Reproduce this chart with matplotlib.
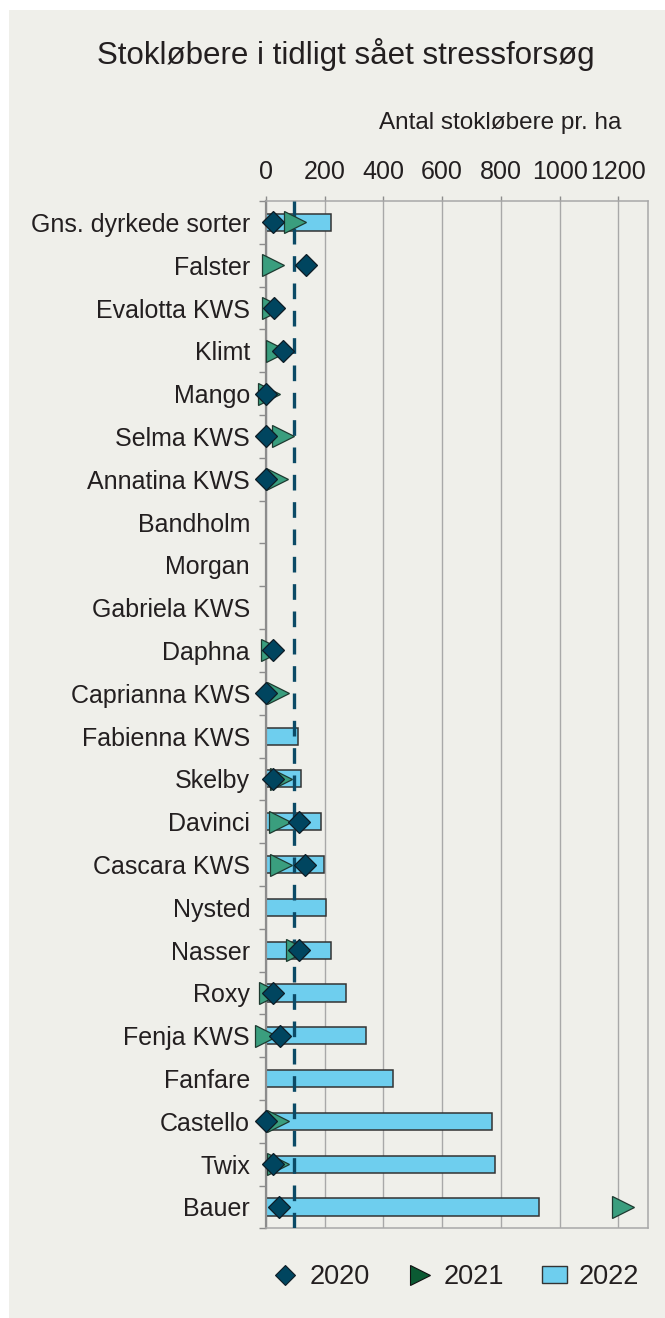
import numpy as np
import matplotlib
matplotlib.use("Agg")
import matplotlib.pyplot as plt
from matplotlib.lines import Line2D
from matplotlib.patches import Patch, Rectangle

plt.rcParams['font.family'] = ['Liberation Sans', 'DejaVu Sans']

categories = ["Gns. dyrkede sorter", "Falster", "Evalotta KWS", "Klimt", "Mango",
              "Selma KWS", "Annatina KWS", "Bandholm", "Morgan", "Gabriela KWS",
              "Daphna", "Caprianna KWS", "Fabienna KWS", "Skelby", "Davinci",
              "Cascara KWS", "Nysted", "Nasser", "Roxy", "Fenja KWS", "Fanfare",
              "Castello", "Twix", "Bauer"]
nan = np.nan
v2020 = [25, 137, 26, 57, 0, 0, 0, nan, nan, nan, 23, 0, nan, 24, 113, 133,
         nan, 113, 24, 46, nan, 0, 23, 45]
v2021 = [98, 25, 24, 36, 11, 58, 38, nan, nan, nan, 20, 42, nan, 50, 47, 50,
         nan, 106, 12, 0, nan, 40, 42, 1215]
v2022 = [220, nan, nan, nan, nan, nan, nan, nan, nan, nan, nan, nan, 108, 120,
         189, 199, 205, 220, 271, 340, 432, 770, 780, 931]
ref_line = 96
xticks = [0, 200, 400, 600, 800, 1000, 1200]
series_names = ["2020", "2021", "2022"]

BG = '#EFEFEA'
TXT = '#231F20'
C_BAR = '#6ECEEE'
C_DIA = '#00455F'
C_TRI = '#3A9E7E'
C_TRI_LEG = '#0B5A33'
C_DASH = '#0B4A66'
GRID = '#A8A8A8'
SPINE = '#8C8C8C'

W, H = 665, 1318
fig = plt.figure(figsize=(W / 100, H / 100), dpi=100, facecolor='white')
fig.patches.append(Rectangle((9 / W, 0), 1 - 9 / W, 1 - 10 / H, transform=fig.transFigure,
                             facecolor=BG, edgecolor='none', zorder=-10))

left, right, top, bottom = 266 / W, 647.7 / W, 1 - 201 / H, 1 - 1228.4 / H
ax = fig.add_axes([left, bottom, right - left, top - bottom])
ax.set_facecolor(BG)

y = np.arange(len(categories))
ax.barh(y, v2022, height=0.4, color=C_BAR, edgecolor='#333333', linewidth=1.1, zorder=2)
ax.plot([ref_line, ref_line], [-0.5, len(categories) - 0.5], color=C_DASH, lw=2.4,
        dashes=(4.7, 3.5), zorder=3, solid_capstyle='butt', dash_capstyle='butt')
ax.plot(v2021, y, linestyle='none', marker='>', ms=15.8, mfc=C_TRI, mec='#1E3A30',
        mew=0.9, zorder=4, clip_on=False)
ax.plot(v2020, y, linestyle='none', marker='D', ms=11.2, mfc=C_DIA, mec='#0E1C25',
        mew=0.9, zorder=5, clip_on=False)

ax.set_xlim(0, 1300)
ax.set_ylim(len(categories) - 0.5, -0.5)
ax.xaxis.tick_top()
ax.set_xticks(xticks)
ax.set_xticklabels([str(t) for t in xticks])
ax.tick_params(axis='x', direction='out', length=3.6, width=1, color=SPINE,
               labelsize=18, labelcolor=TXT, pad=8.5)
ax.set_yticks(y)
ax.set_yticklabels(categories)
ax.tick_params(axis='y', which='major', length=0, labelsize=18, labelcolor=TXT, pad=11.5)
ax.set_yticks(np.arange(-0.5, len(categories), 1.0), minor=True)
ax.tick_params(axis='y', which='minor', direction='out', length=5, width=1, color=SPINE)
ax.grid(axis='x', color=GRID, lw=1, zorder=0)
ax.set_axisbelow(True)
for s in ['top', 'bottom', 'right']:
    ax.spines[s].set_color(GRID)
    ax.spines[s].set_linewidth(1.1)
ax.spines['left'].set_color(SPINE)
ax.spines['left'].set_linewidth(1.6)

fig.text(346 / W, 1 - 64 / H, "Stokløbere i tidligt sået stressforsøg", ha='center',
         va='baseline', fontsize=22.5, color=TXT)
fig.text(500.5 / W, 1 - 129 / H, "Antal stokløbere pr. ha", ha='center', va='baseline',
         fontsize=17.5, color=TXT)

handles = [
    Line2D([], [], linestyle='none', marker='D', ms=10.2, mfc=C_DIA, mec='#0E1C25', mew=0.8),
    Line2D([], [], linestyle='none', marker='>', ms=15, mfc=C_TRI_LEG, mec='#111111', mew=0.8),
    Patch(facecolor=C_BAR, edgecolor='#333333', linewidth=1.0),
]
fig.legend(handles, series_names, loc='center', bbox_to_anchor=(456 / W, 1 - 1277 / H),
           ncol=3, frameon=False, fontsize=19.5, handlelength=0.9, handleheight=0.63,
           handletextpad=0.45, columnspacing=1.4, labelcolor=TXT)

fig.savefig('out.png', dpi=100, facecolor='white')
